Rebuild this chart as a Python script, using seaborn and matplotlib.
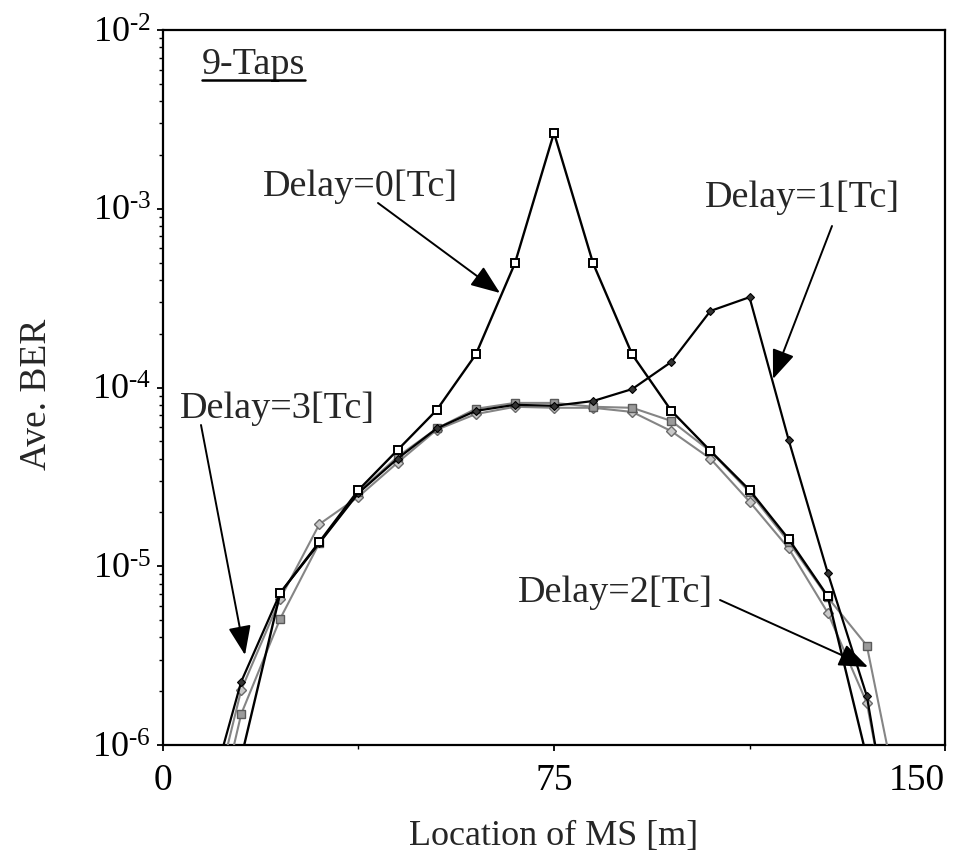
import numpy as np
import pandas as pd
import matplotlib
matplotlib.use("Agg")
import matplotlib.pyplot as plt
import seaborn as sns
from matplotlib.ticker import FixedLocator, FixedFormatter, LogLocator, NullFormatter
from matplotlib.lines import Line2D
from matplotlib.transforms import IdentityTransform, ScaledTranslation

# ---------------- data ----------------
location = [7.5, 15, 22.5, 30, 37.5, 45, 52.5, 60, 67.5, 75, 82.5, 90,
            97.5, 105, 112.5, 120, 127.5, 135, 142.5]
location_d0 = [15, 22.5, 30, 37.5, 45, 52.5, 60, 67.5, 75, 82.5, 90,
               97.5, 105, 112.5, 120, 127.5, 135]

ber_delay0 = [8.5e-7, 7.1e-6, 1.37e-5, 2.67e-5, 4.47e-5, 7.48e-5, 1.53e-4,
              4.95e-4, 2.66e-3, 4.95e-4, 1.53e-4, 7.41e-5, 4.42e-5, 2.67e-5,
              1.42e-5, 6.8e-6, 8.5e-7]
ber_delay1 = [3.7e-7, 2.26e-6, 7.1e-6, 1.35e-5, 2.57e-5, 4.0e-5, 5.9e-5,
              7.4e-5, 8.0e-5, 7.9e-5, 8.4e-5, 9.8e-5, 1.39e-4, 2.68e-4,
              3.2e-4, 5.1e-5, 9.2e-6, 1.88e-6, 1.0e-7]
ber_delay2 = [1.7e-7, 1.49e-6, 5.1e-6, 1.35e-5, 2.6e-5, 4.1e-5, 5.9e-5,
              7.6e-5, 8.2e-5, 8.2e-5, 7.8e-5, 7.7e-5, 6.5e-5, 4.4e-5,
              2.6e-5, 1.37e-5, 6.7e-6, 3.6e-6, 3.0e-7]
ber_delay3 = [2.6e-7, 2.03e-6, 6.6e-6, 1.72e-5, 2.45e-5, 3.8e-5, 5.8e-5,
              7.1e-5, 7.8e-5, 7.7e-5, 7.7e-5, 7.3e-5, 5.7e-5, 4.0e-5,
              2.3e-5, 1.26e-5, 5.5e-6, 1.72e-6, 1.2e-7]

x_ticks = [0, 75, 150]
x_ticklabels = ["0", "75", "150"]
y_ticks = [1e-6, 1e-5, 1e-4, 1e-3, 1e-2]
y_ticklabels = [r"$\mathregular{10^{\text{-}6}}$", r"$\mathregular{10^{\text{-}5}}$",
                r"$\mathregular{10^{\text{-}4}}$", r"$\mathregular{10^{\text{-}3}}$",
                r"$\mathregular{10^{\text{-}2}}$"]

# ---------------- style ----------------
sns.set_style("ticks")
plt.rcParams["font.family"] = ["Liberation Serif", "DejaVu Serif"]
plt.rcParams["mathtext.fontset"] = "custom"
plt.rcParams["mathtext.rm"] = "Liberation Serif"
plt.rcParams["mathtext.default"] = "regular"

W, H = 978, 868
fig = plt.figure(figsize=(W / 100, H / 100), dpi=100)
ax = fig.add_axes([163 / W, 123 / H, 782 / W, 715 / H])
ax.set_yscale("log")

df0 = pd.DataFrame({"location": location_d0, "ber": ber_delay0})
df1 = pd.DataFrame({"location": location, "ber": ber_delay1})
df2 = pd.DataFrame({"location": location, "ber": ber_delay2})
df3 = pd.DataFrame({"location": location, "ber": ber_delay3})

gray_line = "#858585"
sns.lineplot(data=df3, x="location", y="ber", ax=ax, color=gray_line, lw=1.5,
             marker="D", markersize=5, markerfacecolor="#c8c8c8",
             markeredgecolor="#6a6a6a", markeredgewidth=1.0, zorder=3,
             errorbar=None)
sns.lineplot(data=df2, x="location", y="ber", ax=ax, color=gray_line, lw=1.5,
             marker="s", markersize=6, markerfacecolor="#9a9a9a",
             markeredgecolor="#5a5a5a", markeredgewidth=1.0, zorder=4,
             errorbar=None)
sns.lineplot(data=df1, x="location", y="ber", ax=ax, color="black", lw=1.6,
             marker="D", markersize=4.5, markerfacecolor="#333333",
             markeredgecolor="black", markeredgewidth=0.8, zorder=5,
             errorbar=None)
sns.lineplot(data=df0, x="location", y="ber", ax=ax, color="black", lw=1.7,
             marker="s", markersize=5.5, markerfacecolor="white",
             markeredgecolor="black", markeredgewidth=1.4, zorder=6,
             errorbar=None)

ax.set_xlim(0, 150)
ax.set_ylim(1e-6, 1e-2)

ax.xaxis.set_major_locator(FixedLocator(x_ticks))
ax.xaxis.set_major_formatter(FixedFormatter(x_ticklabels))
ax.xaxis.set_minor_locator(FixedLocator([37.5, 112.5]))
ax.yaxis.set_major_locator(FixedLocator(y_ticks))
ax.yaxis.set_major_formatter(FixedFormatter(y_ticklabels))
ax.yaxis.set_minor_locator(LogLocator(base=10, subs=np.arange(2, 10)))
ax.yaxis.set_minor_formatter(NullFormatter())

ax.tick_params(axis="both", which="major", direction="out", length=4.5,
               width=1.3, colors="black")
ax.tick_params(axis="both", which="minor", direction="out", length=3,
               width=1.0, colors="black")
ax.tick_params(axis="y", which="major", pad=4, labelsize=26)
ax.tick_params(axis="x", which="major", pad=9, labelsize=27)

for s in ax.spines.values():
    s.set_visible(True)
    s.set_color("black")
    s.set_linewidth(1.6)

ax.set_xlabel("Location of MS [m]", fontsize=26)
ax.set_ylabel("Ave. BER", fontsize=27)
ax.xaxis.set_label_coords(0.5, -0.105)
ax.yaxis.set_label_coords(-0.14, 0.49)

# ---------------- annotations (figure pixels, y measured from the top) ----------------
def fp(x, y):
    return (x, H - y)

fs_ann = 27.5
arrow_kw = dict(arrowstyle="-|>,head_length=0.9,head_width=0.35",
                color="black", lw=1.4, mutation_scale=20,
                shrinkA=0, shrinkB=0)

ax.annotate("", xy=fp(500, 293), xycoords="figure pixels",
            xytext=fp(378, 203), textcoords="figure pixels", arrowprops=arrow_kw)
ax.annotate("", xy=fp(773, 379), xycoords="figure pixels",
            xytext=fp(832, 226), textcoords="figure pixels", arrowprops=arrow_kw)
ax.annotate("", xy=fp(245, 655), xycoords="figure pixels",
            xytext=fp(201, 425), textcoords="figure pixels", arrowprops=arrow_kw)
ax.annotate("", xy=fp(868, 667), xycoords="figure pixels",
            xytext=fp(720, 600), textcoords="figure pixels", arrowprops=arrow_kw)

ax.annotate("Delay=0[Tc]", xy=fp(263, 196), xycoords="figure pixels",
            fontsize=fs_ann, ha="left", va="baseline")
ax.annotate("Delay=1[Tc]", xy=fp(705, 207), xycoords="figure pixels",
            fontsize=fs_ann, ha="left", va="baseline")
ax.annotate("Delay=3[Tc]", xy=fp(180, 418), xycoords="figure pixels",
            fontsize=fs_ann, ha="left", va="baseline")
ax.annotate("Delay=2[Tc]", xy=fp(518, 602), xycoords="figure pixels",
            fontsize=fs_ann, ha="left", va="baseline")

taps = ax.annotate("9-Taps", xy=fp(202, 74), xycoords="figure pixels",
                   fontsize=fs_ann, ha="left", va="baseline")

# last x tick label sits left of its tick, as in the original
last = ax.xaxis.get_majorticklabels()[-1]
last.set_transform(last.get_transform() + ScaledTranslation(-28 / 100, 0, fig.dpi_scale_trans))

fig.canvas.draw()
bb = taps.get_window_extent(fig.canvas.get_renderer())
uy = H - 80
fig.add_artist(Line2D([bb.x0, bb.x1], [uy, uy], transform=IdentityTransform(),
                      color="black", lw=1.8))

fig.savefig("out.png", dpi=100)
